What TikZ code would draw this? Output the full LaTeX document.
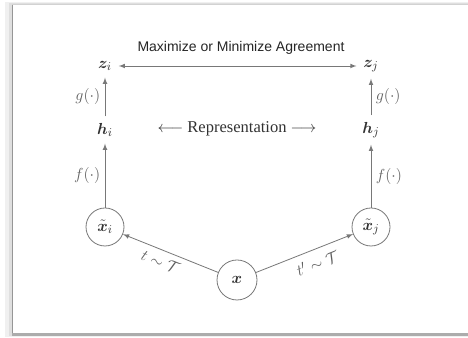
\documentclass[tikz,border=0pt]{standalone}
\usepackage{fontspec}
\setmainfont{Liberation Serif}
\newfontfamily\headfont{Liberation Sans}
\usepackage{amsmath}
\usepackage{bm}
\definecolor{linegray}{RGB}{120,120,120}
\definecolor{textgray}{RGB}{50,50,50}
\definecolor{labelgray}{RGB}{95,95,95}
\definecolor{framegray}{RGB}{150,150,150}

\begin{document}
\begin{tikzpicture}[x=0.75pt, y=0.75pt, >=latex,
    font=\fontsize{12.4}{15}\selectfont,
    vec/.style={inner sep=5pt, text=textgray},
    view/.style={circle, draw=linegray, line width=0.6pt, minimum size=28.5pt, inner sep=0pt, text=textgray},
    flow/.style={->, draw=linegray, line width=0.6pt},
    fn/.style={text=labelgray}]
  \useasboundingbox (0,0) rectangle (468,338);
  % frame and shadow
  \fill[white] (0,0) rectangle (468,338);
  \fill[gray!12] (5,1) rectangle (468,336);
  \fill[gray!25] (9,2) rectangle (468,335);
  \fill[white] (12,5) rectangle (468,333);
  \draw[gray!35, line width=0.75pt] (12,333) -- (468,333);
  \draw[framegray, line width=0.75pt] (12,5) -- (12,333);
  \fill[gray!65] (12,2) rectangle (468,5);
  % title
  \node[font=\headfont\fontsize{10.5}{12}\selectfont, text=black!85] (agree) at (241,290) {Maximize or Minimize Agreement};
  % projections
  \node[vec] (zi) at (105,272) {$\bm{z}_i$};
  \node[vec] (zj) at (371,272) {$\bm{z}_j$};
  % representations
  \node[vec] (hi) at (105,208) {$\bm{h}_i$};
  \node[vec] (hj) at (371,208) {$\bm{h}_j$};
  \node[text=textgray] (repr) at (237,209) {$\longleftarrow$ Representation $\longrightarrow$};
  % views
  \node[view] (xi) at (105,111) {$\tilde{\bm{x}}_i$};
  \node[view] (xj) at (371,111) {$\tilde{\bm{x}}_j$};
  \node[view, minimum size=30pt] (x) at (237,58) {$\bm{x}$};
  % connectors
  \draw[<->, draw=linegray, line width=0.6pt] (zi) -- (zj);
  \draw[flow] (hi) -- node[fn, left] {$g(\cdot)$} (zi);
  \draw[flow] (hj) -- node[fn, right] {$g(\cdot)$} (zj);
  \draw[flow] (xi) -- node[fn, left] {$f(\cdot)$} (hi);
  \draw[flow] (xj) -- node[fn, right] {$f(\cdot)$} (hj);
  \draw[flow] (x) -- node[fn, sloped, below=1pt, pos=0.56] {$t\sim\mathcal{T}$} (xi);
  \draw[flow] (x) -- node[fn, sloped, below=2pt, pos=0.58] {$t'\sim\mathcal{T}$} (xj);
\end{tikzpicture}
\end{document}
